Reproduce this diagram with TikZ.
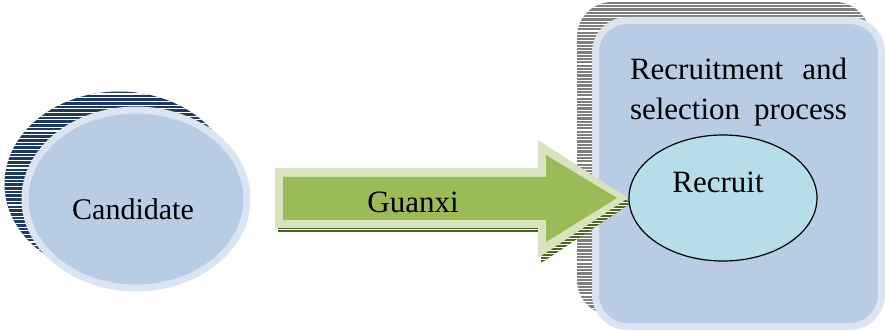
\documentclass[tikz,border=0pt]{standalone}
\usepackage{fontspec}
\setmainfont{Liberation Serif}
\usetikzlibrary{shapes.geometric}
\definecolor{boxfill}{HTML}{B8CCE4}
\definecolor{boxline}{HTML}{DBE5F1}
\definecolor{navyshadow}{HTML}{1F3A60}
\definecolor{greyshadow}{HTML}{7F7F7F}
\definecolor{arrowfill}{HTML}{9BBB59}
\definecolor{arrowline}{HTML}{D7E4BD}
\definecolor{oliveshadow}{HTML}{4F6228}
\definecolor{recruitfill}{HTML}{B7DDE8}
\begin{document}
\begin{tikzpicture}[x=1pt,y=-1pt,
  gap/.style={white,line width=1.1pt},
  lbl/.style={font=\fontsize{31}{40}\selectfont,anchor=base,inner sep=0pt}]
\useasboundingbox (0,0) rectangle (886,331);
% right box shadow (striped)
\begin{scope}
  \clip[rounded corners=35pt] (577,2) rectangle (870,315);
  \fill[greyshadow] (577,2) rectangle (870,315);
  \foreach \k in {0,...,95} {\draw[gap] (570,{2+3.3*\k+2.6}) -- (880,{2+3.3*\k+2.6});}
\end{scope}
\node[rectangle,rounded corners=32pt,draw=boxline,fill=boxfill,line width=7pt,minimum width=286pt,minimum height=306pt,inner sep=0pt] (box) at (738.5,173.5) {};
\node[lbl] (t1) at (738.5,80) {\hbox to 217pt{Recruitment\hfill and}};
\node[lbl] (t2) at (738.5,120) {\hbox to 217pt{selection\hfill process}};
% candidate shadow (striped)
\begin{scope}
  \clip (119,184) ellipse [x radius=114.5, y radius=92.5];
  \fill[navyshadow] (0,85) rectangle (240,290);
  \foreach \k in {0,...,55} {\draw[gap] (0,{91+3.7*\k+3}) -- (240,{91+3.7*\k+3});}
\end{scope}
\node[ellipse,draw=boxline,fill=boxfill,line width=7pt,minimum width=222pt,minimum height=178pt,inner sep=0pt] (cand) at (136,199) {};
\node[lbl,font=\fontsize{30}{36}\selectfont] (candtext) at (133,219) {Candidate};
% arrow shadow (striped)
\begin{scope}
  \clip (278,173) -- (541,173) -- (541,145) -- (631,203) -- (541,263) -- (541,233) -- (278,233) -- cycle;
  \fill[oliveshadow] (270,140) rectangle (640,270);
  \foreach \k in {0,...,45} {\draw[gap,line width=0.9pt] (270,{140+3*\k+2.2}) -- (640,{140+3*\k+2.2});}
\end{scope}
\fill[arrowline] (275,168) -- (538,168) -- (538,140) -- (628,198) -- (538,258) -- (538,228) -- (275,228) -- cycle;
\fill[arrowfill] (283,177) -- (546,177) -- (546,155) -- (617,198) -- (546,242) -- (546,220) -- (283,220) -- cycle;
\node[lbl] (guanxi) at (413,212) {Guanxi};
% recruit
\node[ellipse,draw=black,line width=1.2pt,fill=recruitfill,minimum width=188pt,minimum height=126pt,inner sep=0pt] (recruit) at (723,198) {};
\node[lbl] (recruittext) at (718,193) {Recruit};
\end{tikzpicture}
\end{document}
